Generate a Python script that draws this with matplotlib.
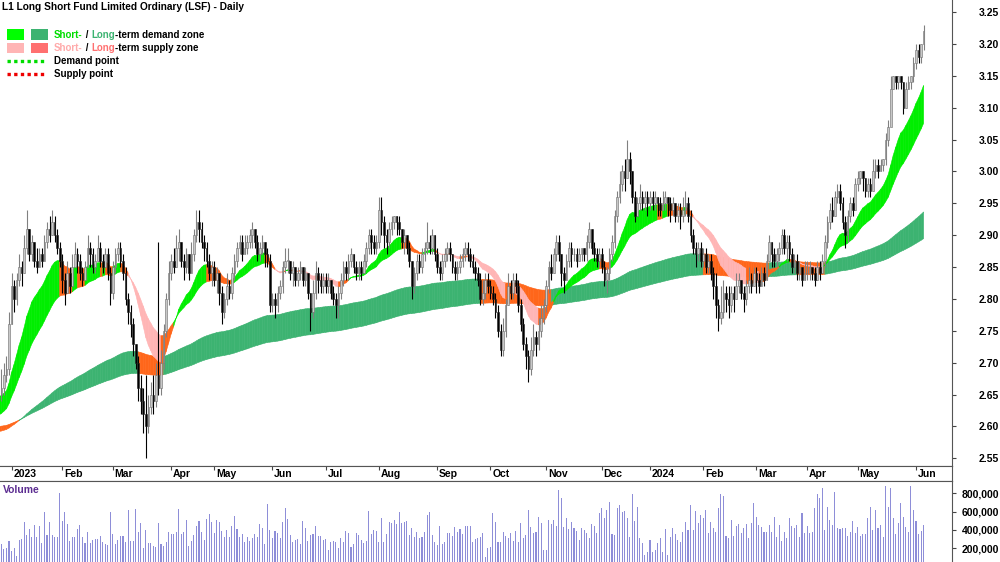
import numpy as np
import pandas as pd
import matplotlib
matplotlib.use("Agg")
import matplotlib.pyplot as plt
from matplotlib.collections import PolyCollection
from matplotlib.patches import Rectangle
from matplotlib.lines import Line2D

plt.rcParams['font.family'] = ['Liberation Sans', 'DejaVu Sans']

# ---- daily bars: L1 Long Short Fund (LSF), prices in cents, volume in thousands ----
first_day, last_day = "2022-12-23", "2024-06-06"
asx_holidays = ["2022-12-26", "2022-12-27", "2023-01-02", "2023-01-26", "2023-04-07",
                "2023-04-10", "2023-04-25", "2023-06-12", "2023-12-25", "2023-12-26",
                "2024-01-01", "2024-01-26", "2024-03-29", "2024-04-01", "2024-04-25"]
first_open = 265

close_c = [
    266, 268, 269, 276,
    282, 280, 283, 285, 284, 288, 291, 287, 289, 286, 285, 287, 286, 289, 291, 290, 292, 290, 288, 286,
    283, 281, 284, 282, 285, 287, 286, 284, 283, 285, 288, 287, 285, 286, 288, 286, 285, 287, 284, 281,
    285, 287, 288, 286, 284, 280, 278, 276, 273, 270, 266, 264, 262, 260, 263, 265, 264, 268, 266, 270, 275, 280, 284,
    286, 285, 288, 289, 286, 285, 287, 284, 287, 290, 292, 291, 289, 288, 286, 284, 285,
    283, 284, 281, 278, 280, 282, 281, 284, 286, 288, 289, 287, 288, 289, 290, 291, 289, 287, 288, 289, 287, 286, 279,
    280, 279, 281, 282, 285, 286, 286, 284, 285, 283, 284, 285, 283, 284, 281, 278, 281, 284, 283, 282, 283,
    282, 283, 281, 280, 279, 281, 283, 285, 284, 286, 287, 285, 284, 285, 284, 286, 288, 290, 289, 288, 289,
    294, 292, 290, 289, 291, 292, 293, 292, 291, 289, 290, 288, 286, 282, 284, 286, 285, 287, 288, 289, 288, 290, 287,
    285, 284, 286, 287, 288, 287, 285, 284, 285, 286, 287, 288, 287, 286, 285, 284, 283, 280, 281, 283, 282,
    281, 280, 278, 275, 272, 275, 279, 282, 281, 283, 282, 279, 276, 273, 271, 269, 272, 274, 273, 275, 277, 279,
    282, 285, 284, 287, 289, 287, 284, 283, 286, 288, 287, 287, 286, 287, 288, 287, 289, 291, 288, 287, 286, 287,
    285, 283, 284, 287, 289, 293, 296, 298, 300, 299, 302, 300, 296, 293, 295, 296, 295, 296, 295,
    296, 295, 296, 295, 294, 295, 296, 295, 294, 295, 293, 294, 293, 294, 295, 293, 290, 288, 287, 288, 286,
    287, 285, 286, 284, 282, 279, 277, 278, 281, 280, 279, 281, 280, 282, 283, 281, 280, 282, 283, 282, 284,
    283, 282, 284, 283, 286, 289, 287, 286, 287, 288, 290, 288, 289, 287, 285, 286, 284, 285, 283, 284,
    284, 285, 284, 283, 285, 284, 286, 289, 292, 294, 293, 296, 297, 295, 292, 290, 293, 295, 294, 298,
    299, 300, 299, 297, 298, 297, 300, 301, 300, 301, 302, 305, 307, 313, 315, 314, 315, 314, 310, 313, 314, 315, 317,
    319, 318, 320, 322,
]
high_c = [
    269, 270, 271, 278,
    284, 283, 284, 287, 286, 290, 294, 291, 290, 289, 288, 288, 288, 290, 292, 293, 294, 293, 291, 289,
    287, 284, 286, 285, 287, 289, 288, 287, 285, 286, 290, 289, 288, 287, 290, 289, 287, 288, 288, 285,
    286, 288, 289, 289, 287, 285, 281, 279, 277, 273, 271, 268, 266, 268, 265, 267, 268, 270, 289, 272, 276, 281, 286,
    287, 288, 290, 291, 289, 287, 288, 287, 289, 291, 294, 294, 292, 290, 289, 287, 286,
    286, 285, 284, 282, 281, 284, 283, 285, 287, 289, 290, 290, 290, 290, 291, 292, 291, 290, 289, 290, 289, 288, 287,
    281, 281, 282, 283, 286, 288, 288, 286, 286, 285, 285, 286, 285, 285, 284, 281, 283, 286, 285, 284, 284,
    284, 284, 283, 282, 281, 282, 284, 286, 286, 287, 288, 287, 286, 286, 286, 287, 289, 291, 291, 290, 290,
    296, 296, 293, 291, 292, 293, 293, 293, 293, 291, 291, 290, 289, 286, 285, 287, 287, 288, 289, 292, 290, 291, 290,
    288, 286, 287, 288, 289, 289, 287, 286, 286, 287, 288, 289, 289, 288, 287, 286, 285, 284, 283, 284, 284,
    283, 282, 281, 279, 276, 277, 280, 284, 283, 284, 284, 283, 280, 277, 274, 272, 274, 276, 275, 277, 279, 280,
    283, 286, 287, 288, 290, 290, 287, 285, 287, 289, 289, 288, 288, 288, 288, 288, 290, 292, 291, 289, 288, 288,
    288, 286, 285, 288, 290, 294, 297, 300, 301, 302, 305, 303, 300, 297, 296, 298, 297, 297, 297,
    297, 297, 297, 296, 296, 297, 297, 296, 296, 296, 295, 295, 295, 296, 297, 296, 294, 291, 289, 289, 289,
    288, 288, 287, 287, 285, 284, 280, 282, 283, 282, 282, 282, 282, 284, 284, 283, 282, 283, 285, 284, 285,
    285, 284, 285, 285, 287, 290, 289, 288, 288, 289, 291, 291, 290, 290, 288, 287, 287, 286, 285, 286,
    286, 286, 285, 285, 286, 286, 287, 290, 293, 295, 296, 297, 298, 298, 296, 293, 294, 296, 296, 299,
    300, 300, 300, 299, 299, 299, 302, 302, 302, 302, 302, 306, 308, 315, 315, 315, 315, 315, 314, 314, 315, 315, 318,
    320, 320, 320, 323,
]
low_c = [
    264, 265, 267, 268,
    276, 278, 279, 282, 282, 284, 287, 286, 286, 285, 284, 285, 285, 286, 288, 289, 290, 289, 287, 285,
    281, 279, 282, 281, 283, 285, 284, 283, 282, 283, 285, 285, 284, 284, 286, 285, 284, 285, 283, 279,
    280, 284, 286, 285, 283, 279, 276, 274, 271, 269, 264, 262, 259, 255, 259, 262, 262, 263, 265, 265, 269, 274, 279,
    283, 284, 285, 286, 285, 283, 284, 283, 284, 286, 289, 289, 288, 286, 285, 283, 282,
    282, 281, 279, 276, 277, 279, 280, 280, 283, 285, 287, 286, 287, 287, 288, 288, 288, 286, 286, 287, 285, 285, 278,
    278, 277, 278, 280, 281, 284, 284, 283, 282, 282, 282, 283, 282, 282, 280, 275, 277, 280, 281, 281, 281,
    281, 281, 280, 279, 277, 277, 280, 282, 283, 283, 285, 284, 283, 283, 283, 284, 285, 287, 287, 287, 287,
    288, 290, 288, 287, 288, 290, 291, 290, 290, 288, 287, 287, 285, 280, 281, 283, 284, 284, 286, 287, 287, 287, 286,
    284, 283, 283, 285, 286, 286, 284, 283, 283, 284, 285, 286, 286, 285, 284, 283, 282, 279, 279, 280, 281,
    280, 279, 277, 274, 271, 271, 274, 279, 280, 280, 281, 278, 275, 272, 269, 267, 268, 271, 271, 272, 274, 276,
    278, 281, 283, 284, 286, 286, 282, 281, 283, 285, 285, 286, 285, 286, 286, 286, 286, 288, 287, 286, 285, 285,
    284, 282, 281, 283, 286, 288, 292, 295, 297, 297, 299, 298, 295, 292, 293, 294, 294, 294, 293,
    294, 294, 294, 293, 293, 294, 294, 293, 292, 293, 292, 292, 291, 292, 293, 292, 289, 287, 285, 286, 285,
    285, 284, 284, 283, 280, 277, 275, 276, 277, 278, 277, 278, 278, 280, 281, 280, 278, 279, 281, 281, 282,
    281, 281, 282, 282, 283, 286, 285, 285, 285, 286, 287, 287, 286, 286, 284, 284, 283, 283, 282, 283,
    283, 283, 283, 282, 283, 283, 284, 285, 288, 291, 292, 293, 295, 294, 291, 288, 289, 292, 293, 294,
    297, 298, 297, 296, 296, 296, 297, 299, 299, 300, 300, 301, 304, 309, 313, 313, 313, 313, 309, 310, 313, 313, 314,
    316, 317, 317, 319,
]
volume_k = [
    244, 193, 200, 280, 175, 207, 116, 291, 298, 491, 346, 411, 328, 455, 328, 448, 255, 593, 346, 491,
    346, 328, 328, 808, 499, 601, 462, 280, 328, 328, 411, 455, 328, 255, 375, 255, 291, 302, 302, 335,
    266, 244, 237, 593, 353, 244, 291, 339, 335, 273, 619, 280, 280, 626, 375, 473, 200, 397, 262, 255,
    229, 215, 473, 251, 226, 266, 375, 353, 357, 375, 626, 353, 375, 510, 229, 280, 346, 448, 499, 382,
    291, 521, 571, 491, 364, 510, 491, 390, 328, 400, 328, 448, 557, 411, 328, 353, 266, 328, 280, 309,
    353, 328, 462, 426, 244, 681, 400, 317, 390, 364, 309, 491, 637, 521, 346, 266, 291, 302, 244, 499,
    426, 280, 346, 353, 448, 339, 339, 291, 302, 182, 266, 280, 266, 207, 317, 266, 390, 364, 218, 244,
    364, 346, 291, 255, 280, 608, 353, 400, 390, 266, 535, 266, 353, 491, 473, 510, 462, 593, 473, 491,
    499, 346, 426, 328, 375, 317, 328, 375, 564, 593, 346, 266, 237, 448, 244, 273, 364, 364, 339, 437,
    375, 411, 353, 448, 448, 448, 266, 302, 317, 328, 364, 109, 200, 218, 582, 491,
    266, 273, 375, 339, 317, 364, 280, 390, 273, 473, 309, 346, 619, 437, 368, 375, 546, 473, 182, 182,
    510, 462, 510, 448, 838, 747, 437, 535, 411, 491, 426, 390, 291, 426, 400, 364, 309, 462, 448, 364,
    582, 637, 528, 619, 710, 353, 346, 645, 674, 593, 608, 528, 328, 790, 499, 655, 309, 255, 127, 164,
    291, 157, 182, 255, 309, 164, 411, 127, 328, 426, 353, 291, 266, 382, 484, 400, 674, 400, 608, 473,
    564, 528, 619, 364, 491, 426, 375, 637, 790, 776, 335, 317, 510, 335, 448, 462, 364, 426, 462, 309,
    473, 692, 546, 455, 437, 382, 382, 455, 375, 546, 328, 455, 280, 382, 317, 528, 448, 426, 455, 328,
    582, 368, 448, 364, 375, 637, 790, 747, 856, 400, 655, 510, 455, 812, 419, 411, 426, 426, 339, 375,
    499, 364, 437, 339, 357, 357, 528, 655, 400, 619, 419, 455, 328, 885, 655, 856, 535, 353, 473, 692,
    546, 437, 382, 885, 619, 499, 353, 390, 455,
]

# zone settings: EMA pairs, with values carried in from before the first bar
short_spans, short_seed = (17, 33), (2.647, 2.618)
long_spans, long_seed = (150, 250), (2.592, 2.600)

price_ticks = np.arange(2.55, 3.2501, 0.05)
volume_ticks = [200000, 400000, 600000, 800000]

W, H = 1000, 562
c_short_demand, c_long_demand = '#00ee00', '#3cb371'
c_short_supply, c_long_supply = '#ffb5b5', '#ff7070'
c_mixed = '#ff661a'


def ema(values, span, seed):
    a = 2.0 / (span + 1)
    out, prev = [], seed
    for v in values:
        prev += a * (v - prev)
        out.append(prev)
    return np.array(out)


def draw_zone(ax, closes, spans, seed, demand_col, supply_col, lookback, z):
    f = np.r_[seed[0], ema(closes, spans[0], seed[0])]
    s = np.r_[seed[1], ema(closes, spans[1], seed[1])]
    x = np.arange(-1, len(closes))
    hi, lo = np.maximum(f, s), np.minimum(f, s)
    polys, cols = [], []
    for k in range(1, len(x)):
        rising = f[k] >= f[max(k - lookback, 0)]
        above = f[k] >= s[k]
        if above and rising:
            col = demand_col
        elif not above and not rising:
            col = supply_col
        else:
            col = c_mixed
        polys.append([(x[k - 1], lo[k - 1]), (x[k], lo[k]), (x[k], hi[k]), (x[k - 1], hi[k - 1])])
        cols.append(col)
    ax.add_collection(PolyCollection(polys, facecolors=cols, edgecolors=cols, linewidths=0.4, zorder=z))


close = np.array(close_c) / 100.0
high = np.array(high_c) / 100.0
low = np.array(low_c) / 100.0
opn = np.r_[first_open / 100.0, close[:-1]]
vol = np.array(volume_k) * 1000.0
dates = pd.bdate_range(first_day, last_day, freq='C', holidays=asx_holidays)
idx = np.arange(len(close))

fig = plt.figure(figsize=(W / 100, H / 100), dpi=100)
ax_p = fig.add_axes([0, 1 - 466 / H, 952 / W, 466 / H])
ax_d = fig.add_axes([0, 1 - 481 / H, 952 / W, 15 / H], sharex=ax_p)
ax_v = fig.add_axes([0, 0, 952 / W, 81 / H], sharex=ax_p)

# zones
draw_zone(ax_p, close, long_spans, long_seed, c_long_demand, c_long_supply, 5, 1)
draw_zone(ax_p, close, short_spans, short_seed, c_short_demand, c_short_supply, 2, 2)

# candles
up = close >= opn
body_lo = np.minimum(opn, close)
body_h = np.maximum(np.abs(close - opn), 0.0012)
ax_p.vlines(idx[up], low[up], high[up], color='#808080', lw=0.8, zorder=3)
ax_p.vlines(idx[~up], low[~up], high[~up], color='black', lw=0.8, zorder=3)
ax_p.bar(idx[up], body_h[up], bottom=body_lo[up], width=0.66, color='#c8c8c8',
         edgecolor='#6e6e6e', linewidth=0.4, zorder=4)
ax_p.bar(idx[~up], body_h[~up], bottom=body_lo[~up], width=0.66, color='black',
         edgecolor='#222222', linewidth=0.4, zorder=4)

xmin, xmax = -0.55, 375.2
ax_p.set_xlim(xmin, xmax)
ax_p.set_ylim(2.538, 3.269)

# price axis on the right
ax_p.yaxis.tick_right()
ax_p.set_yticks(price_ticks)
ax_p.set_yticklabels([f"{v:.2f}" for v in price_ticks])
ax_p.tick_params(axis='y', direction='out', length=3, width=0.8, pad=31, labelsize=7.5, color='#444444')
plt.setp(ax_p.get_yticklabels(), ha='right', fontweight='bold')
ax_p.tick_params(axis='x', bottom=False, labelbottom=False)
for side in ('top', 'left'):
    ax_p.spines[side].set_visible(False)
for side in ('right', 'bottom'):
    ax_p.spines[side].set_color('#555555')

# date band
per = dates.to_period('M')
starts = np.flatnonzero(np.r_[True, per[1:] != per[:-1]])[1:]
ax_d.set_ylim(0, 1)
ax_d.set_yticks([])
ax_d.xaxis.set_ticks_position('top')
ax_d.set_xticks(starts)
ax_d.tick_params(axis='x', direction='in', length=3, labeltop=False, labelbottom=False, color='#444444')
ax_d.spines['left'].set_visible(False)
for side in ('top', 'bottom', 'right'):
    ax_d.spines[side].set_color('#555555')
for s in starts:
    d = dates[s]
    lab = str(d.year) if d.month == 1 else d.strftime('%b')
    ax_d.text(s + 0.7, 0.45, lab, ha='left', va='center', fontsize=7.5, fontweight='bold')

# volume
ax_v.bar(idx, vol, width=0.42, color='#8e8ed8', zorder=2)
ax_v.set_ylim(50000, 935000)
ax_v.yaxis.tick_right()
ax_v.set_yticks(volume_ticks)
ax_v.set_yticklabels([f"{v:,}" for v in volume_ticks])
ax_v.tick_params(axis='y', direction='out', length=3, width=0.8, pad=31, labelsize=7.5, color='#444444')
plt.setp(ax_v.get_yticklabels(), ha='right', fontweight='bold')
ax_v.tick_params(axis='x', bottom=False, labelbottom=False)
for side in ('bottom', 'left'):
    ax_v.spines[side].set_visible(False)
for side in ('top', 'right'):
    ax_v.spines[side].set_color('#555555')
ax_v.text(3 / 952, 1 - 9 / 81, "Volume", transform=ax_v.transAxes, ha='left', va='center',
          fontsize=7.5, fontweight='bold', color='#5c2d91')

# title and legend
fig.text(2 / W, 1 - 7 / H, "L1 Long Short Fund Limited Ordinary (LSF) - Daily",
         ha='left', va='center', fontsize=7.3, fontweight='bold')

renderer = fig.canvas.get_renderer()


def colored_line(x_px, y_px, pieces):
    x = x_px
    for txt, col in pieces:
        t = fig.text(x / W, 1 - y_px / H, txt, color=col, ha='left', va='center',
                     fontsize=7, fontweight='bold')
        x += t.get_window_extent(renderer).width


def swatch(x0, y0, x1, y1, col):
    fig.add_artist(Rectangle((x0 / W, 1 - y1 / H), (x1 - x0) / W, (y1 - y0) / H,
                             transform=fig.transFigure, color=col, lw=0))


swatch(7, 29, 24, 40, '#00ff00')
swatch(31, 29, 48, 40, c_long_demand)
swatch(7, 43, 24, 53, c_short_supply)
swatch(31, 43, 48, 53, c_long_supply)
colored_line(54, 35, [("Short-", '#00dd00'), (" / ", 'black'), ("Long", c_long_demand),
                      ("-term demand zone", 'black')])
colored_line(54, 48, [("Short-", '#ffaaaa'), (" / ", 'black'), ("Long", c_long_supply),
                      ("-term supply zone", 'black')])
for yy, col, lab in ((61, '#00dd00', "Demand point"), (74, '#ee0000', "Supply point")):
    fig.add_artist(Line2D([7 / W, 45 / W], [1 - yy / H] * 2, transform=fig.transFigure,
                          color=col, lw=2.4, linestyle=(0, (1, 1))))
    colored_line(54, yy, [(lab, 'black')])

fig.savefig("out.png", dpi=100)
